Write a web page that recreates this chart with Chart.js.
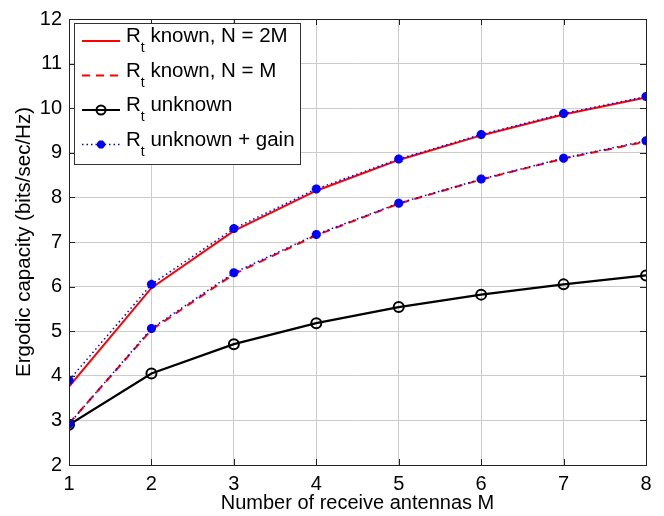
<!DOCTYPE html>
<html lang="en">
<head>
  <meta charset="UTF-8">
  <title>Ergodic capacity vs receive antennas</title>
  <script src="https://cdn.jsdelivr.net/npm/chart.js"></script>
  <style>
    html, body { margin: 0; padding: 0; background: #fff; }
    #wrap { width: 664px; height: 516px; }
  </style>
</head>
<body>
  <div id="wrap"><canvas id="capacityChart" width="664" height="516"></canvas></div>

  <script>
    // Values
    const antennas = [1, 2, 3, 4, 5, 6, 7, 8];
    const knownTwoM = [3.76, 5.97, 7.25, 8.15, 8.84, 9.39, 9.86, 10.24];
    const knownM = [2.93, 5.03, 6.28, 7.15, 7.86, 8.40, 8.87, 9.25];
    const unknownRt = [2.90, 4.05, 4.71, 5.18, 5.54, 5.82, 6.05, 6.25];
    const gainTwoM = [3.90, 6.05, 7.30, 8.19, 8.86, 9.41, 9.88, 10.26];
    const gainM = [2.92, 5.06, 6.31, 7.17, 7.87, 8.41, 8.88, 9.27];
    const yTicks = [2, 3, 4, 5, 6, 7, 8, 9, 10, 11, 12];

    // Legend entries (R with subscript t, then the rest)
    const legendRest = [' known, N = 2M', ' known, N = M', ' unknown', ' unknown + gain'];

    const FONT = "'Liberation Sans', Arial, Helvetica, sans-serif";

    function toPoints(ys) {
      return antennas.map((x, i) => ({ x: x, y: ys[i] }));
    }

    // Box around plot with inward ticks, MATLAB style
    const framePlugin = {
      id: 'frame',
      afterDatasetsDraw(chart) {
        const { ctx, chartArea: a, scales } = chart;
        ctx.save();
        ctx.strokeStyle = '#222';
        ctx.lineWidth = 1;
        ctx.strokeRect(a.left + 0.5, a.top + 0.5, a.right - a.left, a.bottom - a.top);
        ctx.beginPath();
        antennas.forEach(v => {
          const px = Math.round(scales.x.getPixelForValue(v)) + 0.5;
          ctx.moveTo(px, a.bottom); ctx.lineTo(px, a.bottom - 6);
          ctx.moveTo(px, a.top); ctx.lineTo(px, a.top + 6);
        });
        yTicks.forEach(v => {
          const py = Math.round(scales.y.getPixelForValue(v)) + 0.5;
          ctx.moveTo(a.left, py); ctx.lineTo(a.left + 6, py);
          ctx.moveTo(a.right, py); ctx.lineTo(a.right - 6, py);
        });
        ctx.stroke();
        ctx.restore();
      }
    };

    // Legend box drawn by hand so the subscript t can be shown
    const legendPlugin = {
      id: 'subLegend',
      afterDraw(chart) {
        const { ctx, chartArea: a } = chart;
        const sets = chart.data.datasets.filter(d => d.legendRow !== undefined);
        const left = a.left + 5, top = a.top + 4, w = 226, h = 141;
        ctx.save();
        ctx.fillStyle = '#fff';
        ctx.fillRect(left, top, w, h);
        ctx.strokeStyle = '#333';
        ctx.lineWidth = 1;
        ctx.strokeRect(left + 0.5, top + 0.5, w, h);

        sets.forEach(ds => {
          const row = ds.legendRow;
          const ly = top + 18 + row * 34.5;
          const x0 = left + 8, x1 = left + 46;
          // sample line
          ctx.save();
          ctx.strokeStyle = ds.borderColor;
          ctx.lineWidth = ds.borderWidth;
          ctx.setLineDash(ds.borderDash || []);
          ctx.beginPath();
          ctx.moveTo(x0, ly); ctx.lineTo(x1, ly);
          ctx.stroke();
          ctx.restore();
          // sample marker
          if (ds.pointRadius > 0) {
            ctx.save();
            ctx.strokeStyle = ds.pointBorderColor;
            ctx.fillStyle = ds.pointBackgroundColor;
            ctx.lineWidth = ds.pointBorderWidth;
            Chart.helpers.drawPoint(ctx, {
              pointStyle: ds.pointStyle,
              radius: ds.pointRadius - 0.5,
              borderWidth: ds.pointBorderWidth,
              rotation: 0
            }, (x0 + x1) / 2, ly);
            ctx.restore();
          }
          // label text
          ctx.fillStyle = '#000';
          ctx.textBaseline = 'alphabetic';
          ctx.textAlign = 'left';
          let tx = left + 52;
          const base = ly + 1;
          ctx.font = '20.5px ' + FONT;
          ctx.fillText('R', tx, base);
          tx += ctx.measureText('R').width;
          ctx.font = '14px ' + FONT;
          ctx.fillText('t', tx, base + 10);
          tx += ctx.measureText('t').width;
          ctx.font = '20.5px ' + FONT;
          ctx.fillText(legendRest[row], tx, base);
        });
        ctx.restore();
      }
    };

    new Chart(document.getElementById('capacityChart').getContext('2d'), {
      type: 'line',
      data: {
        datasets: [
          {
            label: 'Rt known, N = 2M',
            legendRow: 0,
            data: toPoints(knownTwoM),
            borderColor: '#ff0000',
            borderWidth: 2,
            pointRadius: 0,
            order: 5
          },
          {
            label: 'Rt known, N = M',
            legendRow: 1,
            data: toPoints(knownM),
            borderColor: '#ff0000',
            borderWidth: 2,
            borderDash: [8, 6],
            pointRadius: 0,
            order: 4
          },
          {
            label: 'Rt unknown',
            legendRow: 2,
            data: toPoints(unknownRt),
            borderColor: '#000000',
            borderWidth: 2.2,
            pointStyle: 'circle',
            pointRadius: 5,
            pointBorderWidth: 2,
            pointBorderColor: '#000000',
            pointBackgroundColor: 'rgba(0,0,0,0)',
            order: 3
          },
          {
            label: 'Rt unknown + gain',
            legendRow: 3,
            data: toPoints(gainTwoM),
            borderColor: '#0000ff',
            borderWidth: 1.5,
            borderDash: [1.5, 3],
            pointStyle: 'star',
            pointRadius: 4.5,
            pointBorderWidth: 3,
            pointBorderColor: '#0000ff',
            pointBackgroundColor: '#0000ff',
            order: 1
          },
          {
            label: 'Rt unknown + gain (N = M)',
            data: toPoints(gainM),
            borderColor: '#0000ff',
            borderWidth: 1.5,
            borderDash: [1.5, 3],
            pointStyle: 'star',
            pointRadius: 4.5,
            pointBorderWidth: 3,
            pointBorderColor: '#0000ff',
            pointBackgroundColor: '#0000ff',
            order: 2
          }
        ]
      },
      options: {
        responsive: false,
        animation: false,
        layout: { padding: { left: 0, top: 11, right: 18, bottom: 0 } },
        plugins: {
          legend: { display: false },
          tooltip: { enabled: false }
        },
        scales: {
          x: {
            type: 'linear',
            min: 1,
            max: 8,
            afterFit: s => { s.height = 51; },
            afterBuildTicks: s => { s.ticks = antennas.map(v => ({ value: v })); },
            grid: { color: '#cccccc', borderDash: [1, 3], drawTicks: false },
            border: { display: false },
            ticks: { color: '#000', padding: 7, font: { family: FONT, size: 20 } },
            title: {
              display: true,
              text: 'Number of receive antennas M',
              color: '#000',
              padding: { top: 0, bottom: 1 },
              font: { family: FONT, size: 20 }
            }
          },
          y: {
            min: 2,
            max: 12,
            afterFit: s => { s.width = 69; },
            afterBuildTicks: s => { s.ticks = yTicks.map(v => ({ value: v })); },
            grid: { color: '#cccccc', borderDash: [1, 3], drawTicks: false },
            border: { display: false },
            ticks: { color: '#000', padding: 7, font: { family: FONT, size: 20 } },
            title: {
              display: true,
              text: 'Ergodic capacity (bits/sec/Hz)',
              color: '#000',
              padding: { top: 12, bottom: 0 },
              font: { family: FONT, size: 20.5 }
            }
          }
        }
      },
      plugins: [framePlugin, legendPlugin]
    });
  </script>
</body>
</html>
